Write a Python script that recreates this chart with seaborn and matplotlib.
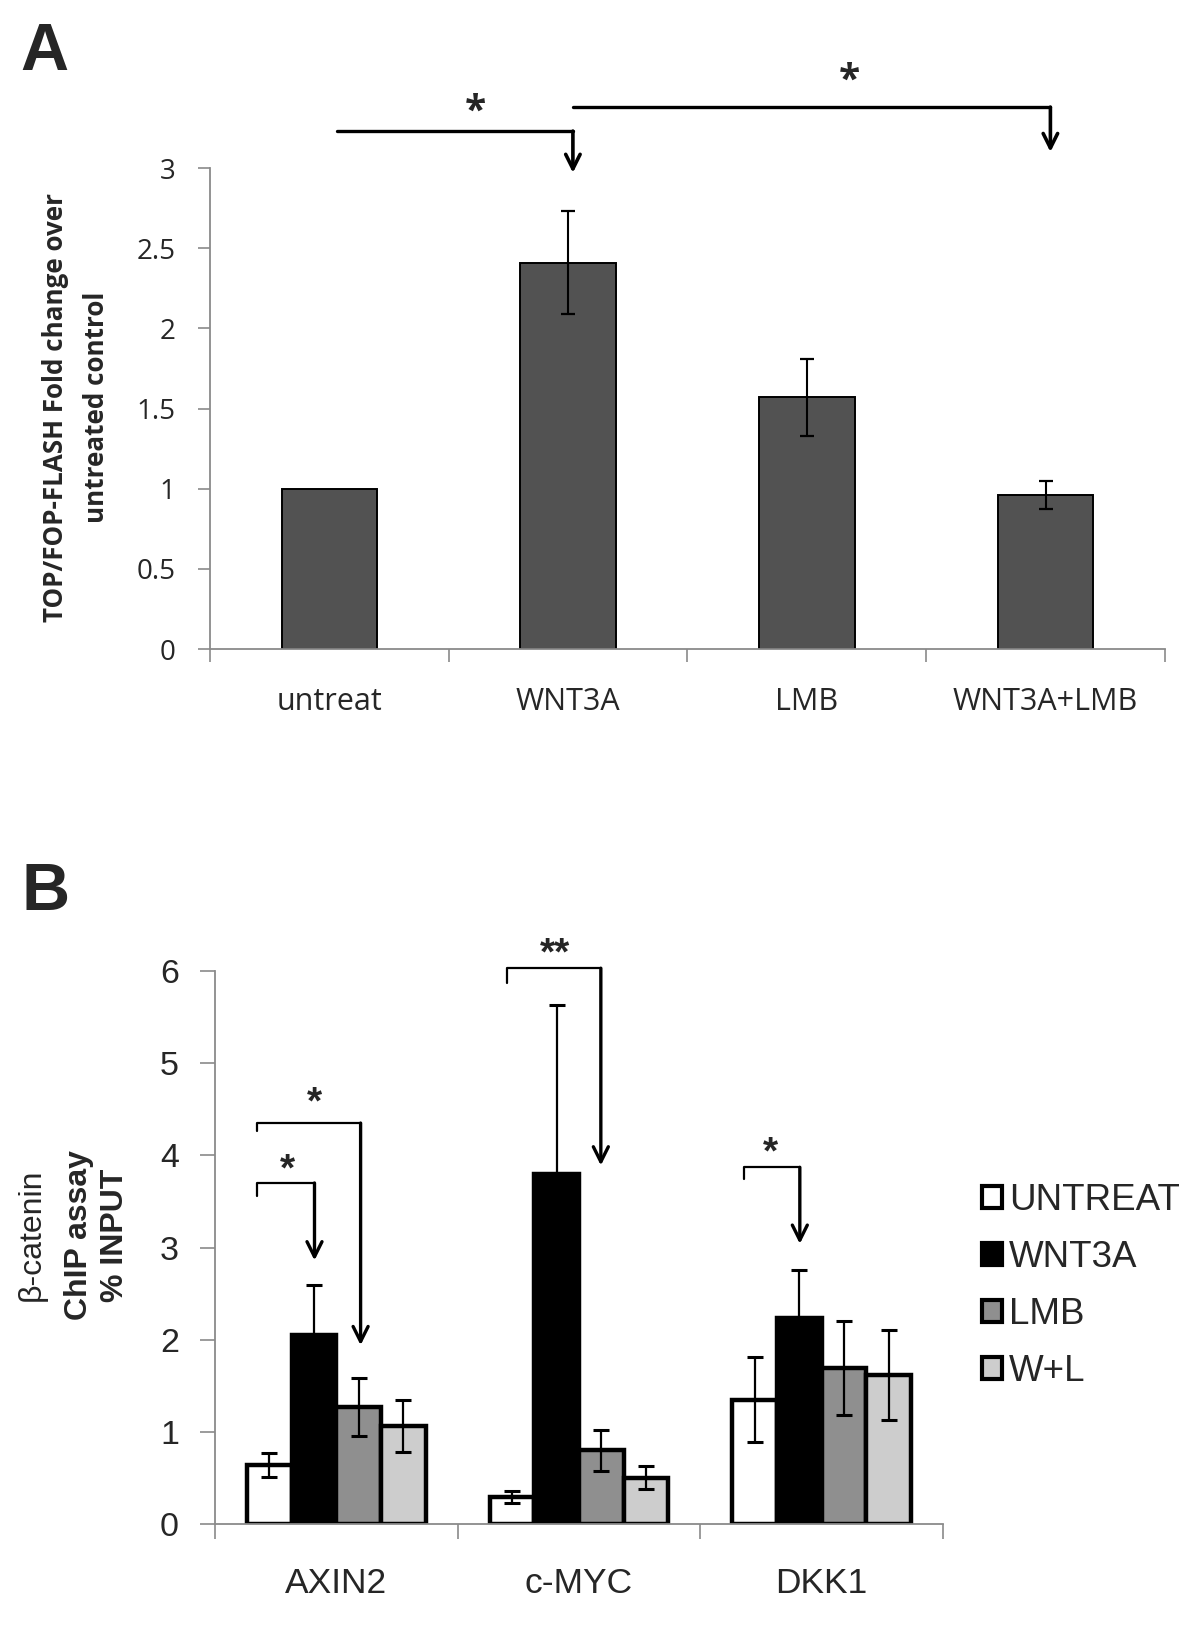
import seaborn as sns
import matplotlib.pyplot as plt
import pandas as pd
import numpy as np
from matplotlib.patches import Patch

# ---- panel A data ----
treat_a = ['untreat', 'WNT3A', 'LMB', 'WNT3A+LMB']
fold_a = [1.0, 2.41, 1.57, 0.96]
fold_a_err = [0.0, 0.32, 0.24, 0.085]
yticks_a = [0, 0.5, 1, 1.5, 2, 2.5, 3]

# ---- panel B data ----
genes = ['AXIN2', 'c-MYC', 'DKK1']
groups = ['UNTREAT', 'WNT3A', 'LMB', 'W+L']
chip_untreat = [0.64, 0.29, 1.35]
chip_wnt3a = [2.05, 3.80, 2.24]
chip_lmb = [1.27, 0.80, 1.69]
chip_wl = [1.06, 0.50, 1.62]
err_untreat = [0.13, 0.065, 0.46]
err_wnt3a = [0.54, 1.83, 0.52]
err_lmb = [0.31, 0.22, 0.51]
err_wl = [0.28, 0.125, 0.49]
colors_b = ['white', 'black', '#8f8f8f', '#cdcdcd']

sns.set_style('white')
plt.rcParams['font.family'] = ['Open Sans', 'DejaVu Sans']

grey = '#8a8a8a'
arial = ['Liberation Sans', 'DejaVu Sans']
fig = plt.figure(figsize=(12, 16.28), dpi=100)

# ================= panel A =================
axA = fig.add_axes([210 / 1200, 1 - 649 / 1628, 955 / 1200, 481 / 1628])
sns.barplot(x=treat_a, y=fold_a, color='#525252', saturation=1, width=0.4,
            edgecolor='black', linewidth=1.4, ax=axA)
for bar, e in zip(axA.patches, fold_a_err):
    if e > 0:
        axA.errorbar(bar.get_x() + bar.get_width() / 2, bar.get_height(), yerr=e,
                     fmt='none', ecolor='black', elinewidth=1.5, capsize=5, capthick=1.6)
axA.set_xlim(-0.5, 3.5)
axA.set_ylim(0, 3)
axA.set_yticks(yticks_a)
axA.set_yticklabels(['0', '0.5', '1', '1.5', '2', '2.5', '3'])
axA.set_xticks([-0.5, 0.5, 1.5, 2.5, 3.5], minor=True)
axA.tick_params(axis='x', which='major', length=0, pad=27, labelsize=22)
axA.tick_params(axis='x', which='minor', length=9, color=grey, width=1.2, direction='out', bottom=True)
axA.tick_params(axis='y', length=9, color=grey, width=1.2, direction='out', left=True, pad=16, labelsize=20)
for s in ['top', 'right']:
    axA.spines[s].set_visible(False)
for s in ['left', 'bottom']:
    axA.spines[s].set_color(grey)
    axA.spines[s].set_linewidth(1.3)
axA.set_xlabel('')
axA.set_ylabel('')

# significance brackets A
arrow_a = dict(arrowstyle='->', lw=2.6, color='black', shrinkA=0, shrinkB=0, mutation_scale=26)
axA.plot([0.03, 1.02], [3.23, 3.23], color='black', lw=2.4, clip_on=False)
axA.annotate('', xy=(1.02, 2.97), xytext=(1.02, 3.23), annotation_clip=False, arrowprops=arrow_a)
axA.text(0.61, 3.35, '*', ha='center', va='center', fontsize=28, fontweight='bold')
axA.plot([1.02, 3.02], [3.38, 3.38], color='black', lw=2.4, clip_on=False)
axA.annotate('', xy=(3.02, 3.10), xytext=(3.02, 3.38), annotation_clip=False, arrowprops=arrow_a)
axA.text(2.18, 3.54, '*', ha='center', va='center', fontsize=28, fontweight='bold')

fig.text(76 / 1200, 1 - 407 / 1628, 'TOP/FOP-FLASH Fold change over\nuntreated control',
         rotation=90, ha='center', va='center', multialignment='center',
         fontsize=18.7, fontweight='bold', linespacing=1.65)

# ================= panel B =================
df_b = pd.DataFrame({
    'gene': genes * 4,
    'treatment': np.repeat(groups, len(genes)),
    'value': chip_untreat + chip_wnt3a + chip_lmb + chip_wl,
})
err_b = [err_untreat, err_wnt3a, err_lmb, err_wl]

axB = fig.add_axes([215 / 1200, 1 - 1524 / 1628, 728 / 1200, 553 / 1628])
sns.barplot(data=df_b, x='gene', y='value', hue='treatment', order=genes, hue_order=groups,
            palette=colors_b, saturation=1, width=0.736, edgecolor='black', linewidth=3.2,
            legend=False, ax=axB)
for cont, errs in zip(axB.containers, err_b):
    for bar, e in zip(cont, errs):
        axB.errorbar(bar.get_x() + bar.get_width() / 2, bar.get_height(), yerr=e,
                     fmt='none', ecolor='black', elinewidth=1.6, capsize=6, capthick=2.2, zorder=5)
axB.set_xlim(-0.5, 2.5)
axB.set_ylim(0, 6)
axB.set_yticks(range(7))
axB.set_xticks([-0.5, 0.5, 1.5, 2.5], minor=True)
axB.tick_params(axis='x', which='major', length=0, pad=31)
axB.tick_params(axis='x', which='minor', length=11, color=grey, width=1.2, direction='out', bottom=True)
axB.tick_params(axis='y', length=11, color=grey, width=1.2, direction='out', left=True, pad=15)
for lab in axB.get_xticklabels() + axB.get_yticklabels():
    lab.set_fontfamily(arial)
for lab in axB.get_xticklabels():
    lab.set_fontsize(25.5)
for lab in axB.get_yticklabels():
    lab.set_fontsize(24.5)
for s in ['top', 'right']:
    axB.spines[s].set_visible(False)
for s in ['left', 'bottom']:
    axB.spines[s].set_color(grey)
    axB.spines[s].set_linewidth(1.3)
axB.set_xlabel('')
axB.set_ylabel('')


def bracket(ax, x0, x1, y_low, y_top, y_tip, label, lx, ly):
    ax.plot([x0, x0, x1], [y_low, y_top, y_top], color='black', lw=1.6, clip_on=False)
    ax.annotate('', xy=(x1, y_tip), xytext=(x1, y_top), annotation_clip=False,
                arrowprops=dict(arrowstyle='->', lw=2.4, color='black', shrinkA=0, shrinkB=0,
                                mutation_scale=27))
    ax.text(lx, ly, label, ha='center', va='center', fontsize=28, fontweight='bold', family=arial)


bracket(axB, -0.325, -0.09, 3.56, 3.70, 2.86, '*', -0.2, 3.84)
bracket(axB, -0.325, 0.10, 4.26, 4.35, 1.94, '*', -0.09, 4.56)
bracket(axB, 0.705, 1.09, 5.87, 6.03, 3.89, '**', 0.9, 6.18)
bracket(axB, 1.68, 1.91, 3.74, 3.87, 3.04, '*', 1.79, 4.02)

handles = [Patch(facecolor=c, edgecolor='black', linewidth=3) for c in colors_b]
fig.legend(handles, groups, loc='center left', bbox_to_anchor=(964 / 1200, 1 - 1286 / 1628),
           frameon=False, prop={'family': arial, 'size': 26.5}, handlelength=0.52, handleheight=0.52,
           handletextpad=0.2, labelspacing=0.6, borderpad=0)

fig.text(32 / 1200, 1 - 1235 / 1628, 'β-catenin', rotation=90, ha='center', va='center',
         fontsize=23, family=arial)
fig.text(79 / 1200, 1 - 1235 / 1628, 'ChIP assay', rotation=90, ha='center', va='center',
         fontsize=23, fontweight='bold', family=arial)
fig.text(115 / 1200, 1 - 1235 / 1628, '% INPUT', rotation=90, ha='center', va='center',
         fontsize=23, fontweight='bold', family=arial)

# panel letters
fig.text(20 / 1200, 1 - 70 / 1628, 'A', ha='left', va='baseline', fontsize=48,
         fontweight='bold', family=arial)
fig.text(22 / 1200, 1 - 910 / 1628, 'B', ha='left', va='baseline', fontsize=48,
         fontweight='bold', family=arial)

plt.savefig('out.png', dpi=100)
plt.close()
